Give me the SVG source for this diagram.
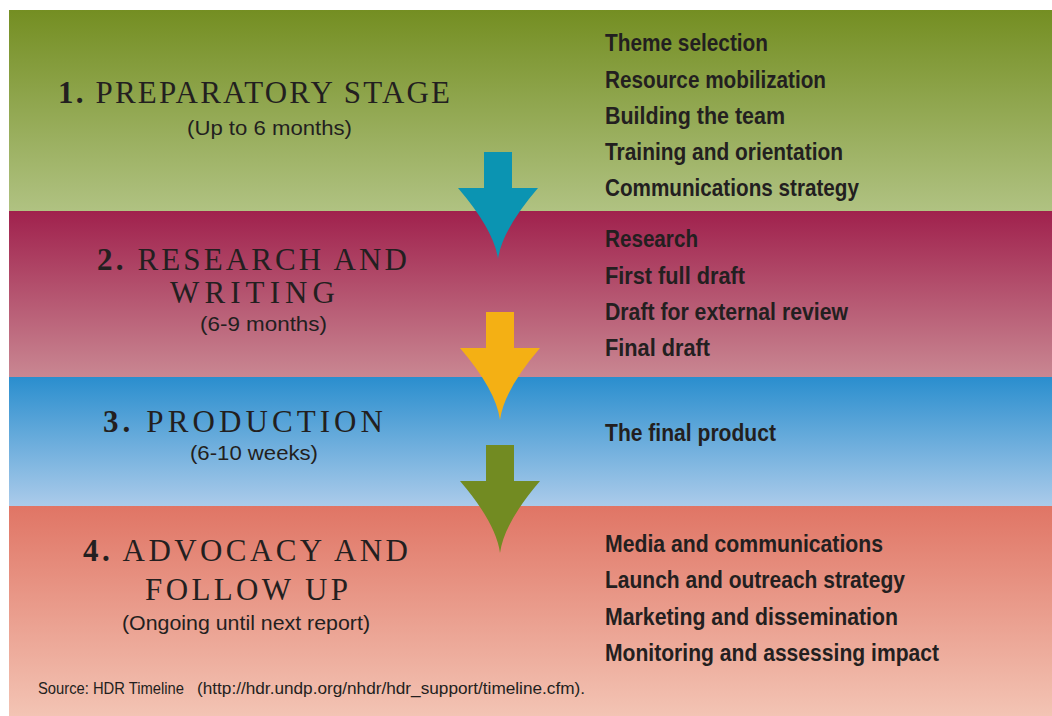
<svg xmlns="http://www.w3.org/2000/svg" width="1052" height="716" viewBox="0 0 1052 716">
<defs>
<linearGradient id="gGreen" x1="0" y1="0" x2="0" y2="1"><stop offset="0" stop-color="#748E22"/><stop offset="1" stop-color="#B0C282"/></linearGradient>
<linearGradient id="gRed" x1="0" y1="0" x2="0" y2="1"><stop offset="0" stop-color="#A0214D"/><stop offset="1" stop-color="#C98792"/></linearGradient>
<linearGradient id="gBlue" x1="0" y1="0" x2="0" y2="1"><stop offset="0" stop-color="#2A8ECE"/><stop offset="1" stop-color="#ABCBEA"/></linearGradient>
<linearGradient id="gSalmon" x1="0" y1="0" x2="0" y2="1"><stop offset="0" stop-color="#E07565"/><stop offset="1" stop-color="#F3C4B4"/></linearGradient>
</defs>
<style>
.title{font-family:"Liberation Serif","Times New Roman",serif;font-size:31px;fill:#231F20;}
.num{font-weight:bold;}
.sub{font-family:"Liberation Sans Narrow","Liberation Sans",Arial,sans-serif;font-size:21px;fill:#231F20;}
.item{font-family:"Liberation Sans Narrow","Liberation Sans",Arial,sans-serif;font-size:24px;font-weight:bold;fill:#231F20;}
.src{font-family:"Liberation Sans Narrow","Liberation Sans",Arial,sans-serif;font-size:16px;fill:#231F20;}
</style>
<rect x="0" y="0" width="1052" height="716" fill="#FFFFFF"/>
<g id="stage1">
<rect x="9" y="10" width="1043" height="201" fill="url(#gGreen)"/>
<text class="title" x="58" y="103" textLength="392" lengthAdjust="spacing"><tspan class="num">1.</tspan> PREPARATORY STAGE</text>
<text class="sub" x="187" y="135" textLength="165" lengthAdjust="spacingAndGlyphs">(Up to 6 months)</text>
<text class="item" x="605" y="51" textLength="163" lengthAdjust="spacingAndGlyphs">Theme selection</text>
<text class="item" x="605" y="88" textLength="221" lengthAdjust="spacingAndGlyphs">Resource mobilization</text>
<text class="item" x="605" y="124" textLength="180" lengthAdjust="spacingAndGlyphs">Building the team</text>
<text class="item" x="605" y="160" textLength="238" lengthAdjust="spacingAndGlyphs">Training and orientation</text>
<text class="item" x="605" y="196" textLength="254" lengthAdjust="spacingAndGlyphs">Communications strategy</text>
</g>
<g id="stage2">
<rect x="9" y="211" width="1043" height="166" fill="url(#gRed)"/>
<text class="title" x="97" y="270" textLength="310" lengthAdjust="spacing"><tspan class="num">2.</tspan> RESEARCH AND</text>
<text class="title" x="170" y="303" textLength="165" lengthAdjust="spacing">WRITING</text>
<text class="sub" x="200" y="331" textLength="127" lengthAdjust="spacingAndGlyphs">(6-9 months)</text>
<text class="item" x="605" y="247" textLength="93" lengthAdjust="spacingAndGlyphs">Research</text>
<text class="item" x="605" y="284" textLength="140" lengthAdjust="spacingAndGlyphs">First full draft</text>
<text class="item" x="605" y="320" textLength="243" lengthAdjust="spacingAndGlyphs">Draft for external review</text>
<text class="item" x="605" y="356" textLength="105" lengthAdjust="spacingAndGlyphs">Final draft</text>
</g>
<g id="stage3">
<rect x="9" y="377" width="1043" height="129" fill="url(#gBlue)"/>
<text class="title" x="103" y="432" textLength="280" lengthAdjust="spacing"><tspan class="num">3.</tspan> PRODUCTION</text>
<text class="sub" x="190" y="460" textLength="128" lengthAdjust="spacingAndGlyphs">(6-10 weeks)</text>
<text class="item" x="605" y="441" textLength="171" lengthAdjust="spacingAndGlyphs">The final product</text>
</g>
<g id="stage4">
<rect x="9" y="506" width="1043" height="210" fill="url(#gSalmon)"/>
<text class="title" x="83" y="561" textLength="325" lengthAdjust="spacing"><tspan class="num">4.</tspan> ADVOCACY AND</text>
<text class="title" x="145" y="600" textLength="203" lengthAdjust="spacing">FOLLOW UP</text>
<text class="sub" x="122" y="630" textLength="248" lengthAdjust="spacingAndGlyphs">(Ongoing until next report)</text>
<text class="item" x="605" y="552" textLength="278" lengthAdjust="spacingAndGlyphs">Media and communications</text>
<text class="item" x="605" y="588" textLength="300" lengthAdjust="spacingAndGlyphs">Launch and outreach strategy</text>
<text class="item" x="605" y="625" textLength="293" lengthAdjust="spacingAndGlyphs">Marketing and dissemination</text>
<text class="item" x="605" y="661" textLength="334" lengthAdjust="spacingAndGlyphs">Monitoring and assessing impact</text>
<text class="src" x="38" y="694"><tspan textLength="146" lengthAdjust="spacingAndGlyphs">Source: HDR Timeline</tspan><tspan x="197" textLength="388" lengthAdjust="spacingAndGlyphs">(http://hdr.undp.org/nhdr/hdr_support/timeline.cfm).</tspan></text>
</g>
<g id="connectors">
<path d="M484,152 H512 V188 H538 Q502,230 498,259 Q494,230 458,188 H484 Z" fill="#0B94B2"/>
<path d="M486,312 H514 V348 H540 Q504,390 500,420 Q496,390 460,348 H486 Z" fill="#F4B014"/>
<path d="M486,445 H514 V481 H540 Q504,523 500,553 Q496,523 460,481 H486 Z" fill="#728B22"/>
</g>
</svg>
